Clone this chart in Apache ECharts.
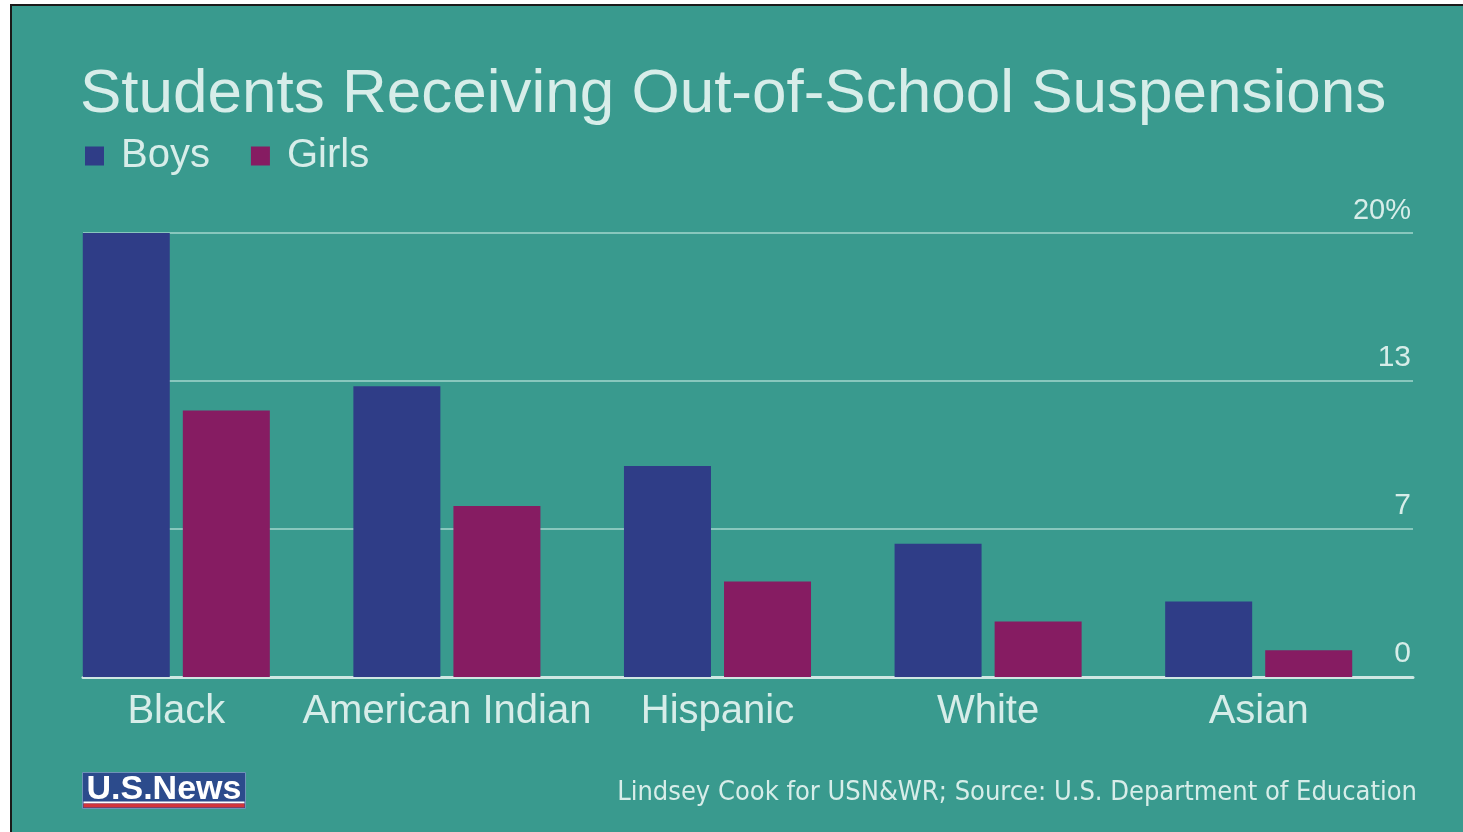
<!DOCTYPE html>
<html>
<head>
<meta charset="utf-8">
<script src="https://cdn.jsdelivr.net/npm/echarts@6/dist/echarts.min.js"></script>
<style>
  html, body { margin: 0; padding: 0; background: #ffffff; width: 1463px; height: 832px; overflow: hidden; }
  #wrap { position: absolute; left: 10px; top: 4px; border-top: 2px solid #1a1a1a; border-left: 2px solid #1a1a1a; }
  #chart { width: 1451px; height: 826px; }
</style>
</head>
<body>
<div id="wrap"><div id="chart"></div></div>
<script>
// ---- data ----
const categories = ['Black', 'American Indian', 'Hispanic', 'White', 'Asian'];
const boys = [20, 13.1, 9.5, 6.0, 3.4];
const girls = [12.0, 7.7, 4.3, 2.5, 1.2];
const seriesNames = ['Boys', 'Girls'];
const titleText = 'Students Receiving Out-of-School Suspensions';
const footerText = 'Lindsey Cook for USN&WR; Source: U.S. Department of Education';
const yMax = 20;
const yTickCount = 3;

// ---- style ----
const FONT = "'Liberation Sans', Arial, sans-serif";
const TEXT = '#d7ede9';
const BG = '#399a8e';
const BOY = '#2f3d87';
const GIRL = '#861c62';

const chart = echarts.init(document.getElementById('chart'));

const option = {
  backgroundColor: BG,
  animation: false,
  textStyle: { fontFamily: FONT },
  title: [
    {
      text: titleText,
      left: 68, top: 58, padding: 0,
      textStyle: { color: TEXT, fontSize: 62, fontWeight: 'normal', fontFamily: FONT }
    },
    {
      text: footerText,
      right: 46, top: 773, padding: 0,
      textStyle: { color: TEXT, fontSize: 27, fontWeight: 'normal', fontFamily: "'Liberation Sans Narrow', 'Arial Narrow', 'DejaVu Sans Condensed', " + FONT }
    }
  ],
  legend: {
    data: seriesNames,
    left: 73, top: 129, padding: 0,
    icon: 'rect', itemWidth: 19, itemHeight: 19, itemGap: 41,
    textStyle: { color: TEXT, fontSize: 40, lineHeight: 42, padding: [0, 0, 0, 12], fontFamily: FONT }
  },
  grid: [
    { left: 29, top: 227, width: 1353, height: 444, containLabel: false },
    { left: 71, top: 227, width: 1330, height: 444, containLabel: false }
  ],
  xAxis: [
    {
      type: 'category', gridIndex: 0, data: categories,
      axisLine: { show: false }, axisTick: { show: false },
      axisLabel: { color: TEXT, fontSize: 40, margin: 15, interval: 0, fontFamily: FONT }
    },
    {
      type: 'value', gridIndex: 1, min: 0, max: 1,
      axisLine: { show: true, onZero: false, lineStyle: { color: '#cfe7e3', width: 3 } },
      axisTick: { show: false }, axisLabel: { show: false }, splitLine: { show: false }
    }
  ],
  yAxis: [
    {
      type: 'value', gridIndex: 0, min: 0, max: yMax,
      axisLine: { show: false }, axisTick: { show: false }, axisLabel: { show: false }, splitLine: { show: false }
    },
    {
      type: 'value', gridIndex: 1, min: 0, max: yMax, interval: yMax / yTickCount,
      position: 'right',
      axisLine: { show: false }, axisTick: { show: false },
      splitLine: { show: true, lineStyle: { color: '#88c7bd', width: 2 } },
      axisLabel: {
        inside: true, margin: 2, color: TEXT, verticalAlign: 'bottom',
        padding: [0, 0, 8, 0],
        formatter: function (v) {
          if (Math.abs(v - yMax) < 0.01) return '{p|' + Math.round(v) + '%}';
          return '{n|' + Math.round(v) + '}';
        },
        rich: {
          p: { fontSize: 29, color: TEXT, fontFamily: FONT },
          n: { fontSize: 30, color: TEXT, fontFamily: FONT }
        }
      }
    }
  ],
  series: [
    {
      name: seriesNames[0], type: 'bar', xAxisIndex: 0, yAxisIndex: 0,
      data: boys, barWidth: 87, barGap: '15%', itemStyle: { color: BOY }, z: 3
    },
    {
      name: seriesNames[1], type: 'bar', xAxisIndex: 0, yAxisIndex: 0,
      data: girls, barWidth: 87, barGap: '15%', itemStyle: { color: GIRL }, z: 3
    }
  ],
  graphic: [
    {
      type: 'group', left: 70, top: 766,
      children: [
        { type: 'rect', shape: { x: 0, y: 0, width: 163, height: 36 }, style: { fill: '#2c4b8c', stroke: '#6f93b8', lineWidth: 1 } },
        { type: 'rect', shape: { x: 1, y: 29, width: 161, height: 2 }, style: { fill: '#ffffff' } },
        { type: 'rect', shape: { x: 1, y: 31, width: 161, height: 4 }, style: { fill: '#d3353b' } },
        { type: 'text', x: 4, y: 0, style: { text: 'U.S.News', fill: '#ffffff', font: "bold 34px 'Liberation Sans', Arial, sans-serif" } }
      ]
    }
  ]
};

chart.setOption(option);
</script>
</body>
</html>
